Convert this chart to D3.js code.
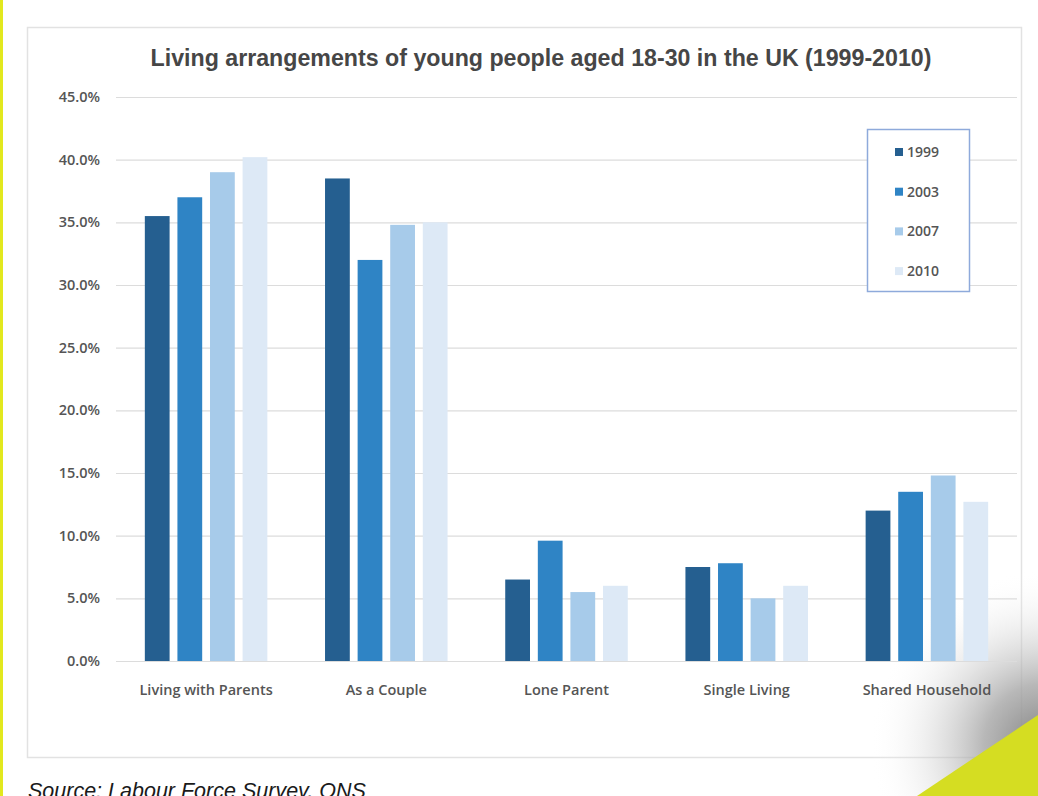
<!DOCTYPE html>
<html>
<head>
<meta charset="utf-8">
<script src="https://cdn.jsdelivr.net/npm/d3@7"></script>
<style>
  html, body { margin: 0; padding: 0; background: #ffffff; }
  svg { display: block; }
</style>
</head>
<body>
<svg id="chart" width="1038" height="796"></svg>
<script>
// ---- data ----
const categories = ["Living with Parents", "As a Couple", "Lone Parent", "Single Living", "Shared Household"];
const years = ["1999", "2003", "2007", "2010"];
const values1999 = [35.5, 38.5, 6.5, 7.5, 12.0];
const values2003 = [37.0, 32.0, 9.6, 7.8, 13.5];
const values2007 = [39.0, 34.8, 5.5, 5.0, 14.8];
const values2010 = [40.2, 35.0, 6.0, 6.0, 12.7];
const yTicks = [0, 5, 10, 15, 20, 25, 30, 35, 40, 45];
const colors = ["#255f90", "#2f84c5", "#a7cbea", "#dde9f6"];
const titleText = "Living arrangements of young people aged 18-30 in the UK (1999-2010)";
const sourceText = "Source: Labour Force Survey, ONS";

const seriesValues = [values1999, values2003, values2007, values2010];

const svg = d3.select("#chart");
const W = 1038, H = 796;
const labelFont = "'Open Sans', sans-serif";

// defs: shadow gradient for bottom-right corner
const defs = svg.append("defs");
const rg = defs.append("radialGradient").attr("id", "shade")
  .attr("gradientUnits", "userSpaceOnUse")
  .attr("cx", 1045).attr("cy", 745).attr("r", 175);
rg.append("stop").attr("offset", "0%").attr("stop-color", "#808080").attr("stop-opacity", 1);
rg.append("stop").attr("offset", "35%").attr("stop-color", "#a6a6a6").attr("stop-opacity", 0.8);
rg.append("stop").attr("offset", "70%").attr("stop-color", "#d6d6d6").attr("stop-opacity", 0.35);
rg.append("stop").attr("offset", "100%").attr("stop-color", "#ffffff").attr("stop-opacity", 0);

svg.append("rect").attr("width", W).attr("height", H).attr("fill", "#ffffff");

// chart frame
svg.append("rect").attr("x", 27.5).attr("y", 27.5).attr("width", 994).attr("height", 730)
  .attr("fill", "#ffffff").attr("stroke", "#e2e2e2").attr("stroke-width", 1.5);

// corner shading
svg.append("rect").attr("x", 840).attr("y", 540).attr("width", 198).attr("height", 256)
  .attr("fill", "url(#shade)");

// left yellow strip
svg.append("rect").attr("x", 0).attr("y", 0).attr("width", 3).attr("height", H).attr("fill", "#e2e81e");

// scales
const plot = { left: 116, right: 1017, top: 97, bottom: 661 };
const y = d3.scaleLinear().domain([0, 45]).range([plot.bottom, plot.top]);
const x0 = d3.scaleBand().domain(categories).range([plot.left, plot.right])
  .paddingInner(0.32).paddingOuter(0.16);
const x1 = d3.scaleBand().domain(years).range([0, x0.bandwidth()]).paddingInner(0.24);

// gridlines + y labels
const yAxis = d3.axisLeft(y).tickValues(yTicks)
  .tickSize(-(plot.right - plot.left))
  .tickFormat(d => d3.format(".1f")(d) + "%");
const gy = svg.append("g").attr("transform", `translate(${plot.left},0)`).call(yAxis);
gy.select(".domain").remove();
gy.selectAll(".tick line").attr("stroke", "#dcdcdc").attr("stroke-width", 1.2);
gy.selectAll(".tick text")
  .attr("x", -16)
  .attr("fill", "#555555")
  .style("font-family", labelFont)
  .style("font-weight", 600)
  .style("font-size", "14.5px");

// bars
const groups = svg.append("g").selectAll("g")
  .data(categories)
  .join("g")
  .attr("transform", d => `translate(${x0(d)},0)`);

groups.selectAll("rect")
  .data((c, ci) => years.map((yr, si) => ({ yr, si, v: seriesValues[si][ci] })))
  .join("rect")
  .attr("x", d => x1(d.yr))
  .attr("width", x1.bandwidth())
  .attr("y", d => y(d.v))
  .attr("height", d => y(0) - y(d.v))
  .attr("fill", d => colors[d.si]);

// x axis labels
const xAxis = d3.axisBottom(x0).tickSize(0).tickPadding(0);
const gx = svg.append("g").attr("transform", `translate(0,${plot.bottom})`).call(xAxis);
gx.select(".domain").remove();
gx.selectAll(".tick text")
  .attr("y", 34)
  .attr("dy", 0)
  .attr("fill", "#555555")
  .style("font-family", labelFont)
  .style("font-weight", 600)
  .style("font-size", "14.5px");

// title
svg.append("text")
  .attr("x", 541).attr("y", 66)
  .attr("text-anchor", "middle")
  .attr("fill", "#464646")
  .style("font-family", "'Liberation Sans', Arial, sans-serif")
  .style("font-weight", "bold")
  .style("font-size", "23.2px")
  .text(titleText);

// legend
const lg = svg.append("g");
lg.append("rect").attr("x", 867.5).attr("y", 129.5).attr("width", 102).attr("height", 162)
  .attr("fill", "#ffffff").attr("stroke", "#8eaadb").attr("stroke-width", 1.5);
const items = lg.selectAll("g.item").data(years).join("g").attr("class", "item")
  .attr("transform", (d, i) => `translate(895,${152 + i * 39.7})`);
items.append("rect").attr("x", 0).attr("y", -4).attr("width", 8).attr("height", 8)
  .attr("fill", (d, i) => colors[i]);
items.append("text").attr("x", 12).attr("y", 5)
  .attr("fill", "#555555")
  .style("font-family", labelFont)
  .style("font-weight", 600)
  .style("font-size", "14px")
  .text(d => d);

// bottom-right yellow triangle
svg.append("path")
  .attr("d", "M917,796 L1038,715 L1038,796 Z")
  .attr("fill", "#d5dd22");

// source text
svg.append("text")
  .attr("x", 28).attr("y", 798)
  .attr("fill", "#1a1a1a")
  .style("font-family", "'Liberation Sans', Arial, sans-serif")
  .style("font-style", "italic")
  .style("font-size", "21.5px")
  .text(sourceText);
</script>
</body>
</html>
